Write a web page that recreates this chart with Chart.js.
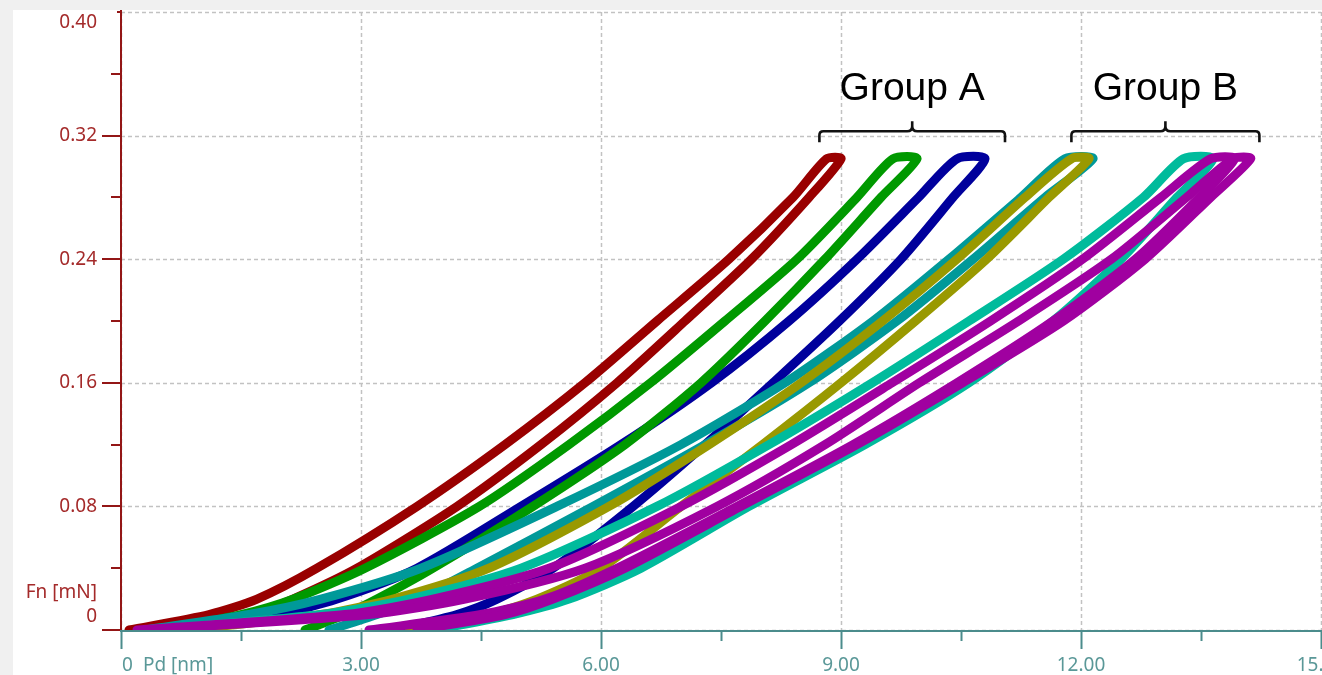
<!DOCTYPE html>
<html>
<head>
<meta charset="utf-8">
<script src="https://cdn.jsdelivr.net/npm/chart.js@4.4.0/dist/chart.umd.min.js"></script>
<style>
  html, body { margin: 0; padding: 0; background: #f0f0f0; overflow: hidden; }
  #panel { position: absolute; left: 13px; top: 10px; width: 1309px; height: 665px; background: #fff; }
</style>
</head>
<body>
<div id="panel"><canvas id="chart" width="1309" height="665"></canvas></div>
<script>
const forceLevels = [0, 0.01, 0.02, 0.04, 0.08, 0.12, 0.16, 0.20, 0.24, 0.28, 0.305]

// group A
const redLoad     = [0.1, 1.1, 1.7, 2.45, 3.7, 4.8, 5.8, 6.7, 7.6, 8.4, 8.82]
const redUnload   = [0.8, 1.65, 2.15, 2.95, 4.2, 5.25, 6.2, 7.05, 7.88, 8.6, 9.0]
const greenLoad   = [0.5, 1.5, 2.15, 3.05, 4.48, 5.6, 6.62, 7.55, 8.45, 9.2, 9.65]
const greenUnload = [2.3, 2.8, 3.2, 3.9, 5.15, 6.3, 7.25, 8.05, 8.8, 9.5, 9.95]
const blueLoad    = [0.7, 1.95, 2.7, 3.7, 5.0, 6.25, 7.38, 8.35, 9.2, 9.97, 10.45]
const blueUnload  = [3.4, 4.2, 4.7, 5.4, 6.4, 7.3, 8.15, 8.98, 9.75, 10.4, 10.8]

// group B
const tealLoad    = [0.3, 1.6, 2.5, 3.75, 5.45, 7.0, 8.3, 9.4, 10.35, 11.25, 11.8]
const tealUnload  = [2.6, 3.2, 3.7, 4.45, 5.9, 7.3, 8.6, 9.7, 10.65, 11.55, 12.15]
const oliveLoad   = [0.8, 2.5, 3.4, 4.6, 6.1, 7.35, 8.5, 9.52, 10.45, 11.3, 11.88]
const oliveUnload = [3.6, 4.6, 5.2, 6.0, 7.0, 8.02, 9.0, 9.93, 10.82, 11.6, 12.1]
const aquaLoad    = [0.4, 2.5, 3.6, 5.0, 6.7, 8.1, 9.39, 10.6, 11.78, 12.78, 13.28]
const aquaUnload  = [3.9, 4.9, 5.6, 6.5, 7.85, 9.3, 10.6, 11.65, 12.5, 13.2, 13.65]
const magentaLoad1   = [0.2, 2.8, 3.9, 5.35, 7.0, 8.38, 9.64, 10.87, 12.02, 13.0, 13.62]
const magentaUnload1 = [3.1, 4.5, 5.3, 6.2, 7.7, 9.15, 10.45, 11.65, 12.68, 13.48, 13.92]
const magentaLoad2   = [0.3, 3.1, 4.3, 5.8, 7.45, 8.8, 9.98, 11.22, 12.38, 13.32, 13.9]
const magentaUnload2 = [3.7, 4.8, 5.4, 6.3, 7.75, 9.2, 10.52, 11.78, 12.8, 13.62, 14.12]

// axes
const xTicks = [0, 3, 6, 9, 12, 15]
const xTickLabels = ['0', '3.00', '6.00', '9.00', '12.00', '15.00']
const yTicks = [0, 0.08, 0.16, 0.24, 0.32, 0.40]
const yTickLabels = ['0', '0.08', '0.16', '0.24', '0.32', '0.40']

// annotations
const groupNames = ['Group A', 'Group B']
const groupFrom = [8.73, 11.88]
const groupTo = [11.05, 14.23]
const braceForce = 0.3228
const labelForce = 0.343

const loopPoints = (load, unload) => {
    const pts = load.map((h, i) => ({ x: h, y: forceLevels[i] }))
    for (let i = unload.length - 1; i >= 0; i--) pts.push({ x: unload[i], y: forceLevels[i] })
    return pts
}

const loops = [
    { label: 'red', color: '#990000', load: redLoad, unload: redUnload, z: 7 },
    { label: 'blue', color: '#00009c', load: blueLoad, unload: blueUnload, z: 6 },
    { label: 'green', color: '#009900', load: greenLoad, unload: greenUnload, z: 5 },
    { label: 'teal', color: '#009999', load: tealLoad, unload: tealUnload, z: 4 },
    { label: 'olive', color: '#999900', load: oliveLoad, unload: oliveUnload, z: 3 },
    { label: 'aqua', color: '#00bb9c', load: aquaLoad, unload: aquaUnload, z: 2 },
    { label: 'magenta 1', color: '#a000a0', load: magentaLoad1, unload: magentaUnload1, z: 1 },
    { label: 'magenta 2', color: '#a000a0', load: magentaLoad2, unload: magentaUnload2, z: 0 }
]

const AXIS_FONT = '19px "Noto Sans", "Open Sans", sans-serif'

const axesPlugin = {
    id: 'axes',
    beforeDatasetsDraw(chart) {
        const { ctx, chartArea: a, scales: { x, y } } = chart
        ctx.save()
        ctx.strokeStyle = '#c2c2c2'
        ctx.lineWidth = 1.5
        ctx.setLineDash([4, 3])
        yTicks.forEach(v => {
            const py = Math.round(y.getPixelForValue(v)) + 0.5
            ctx.beginPath(); ctx.moveTo(a.left, py); ctx.lineTo(a.right, py); ctx.stroke()
        })
        xTicks.forEach(v => {
            const px = Math.round(x.getPixelForValue(v)) + 0.5
            ctx.beginPath(); ctx.moveTo(px, a.top); ctx.lineTo(px, a.bottom); ctx.stroke()
        })
        ctx.restore()
    },
    afterDatasetsDraw(chart) {
        const { ctx, chartArea: a, scales: { x, y } } = chart
        const x0 = x.getPixelForValue(0)
        const y0 = y.getPixelForValue(0)
        ctx.save()

        // y axis (dark red)
        ctx.strokeStyle = '#931616'
        ctx.lineWidth = 2
        ctx.beginPath(); ctx.moveTo(x0, 0); ctx.lineTo(x0, y0 + 1); ctx.stroke()
        for (let v = 0; v <= 0.4001; v += 0.04) {
            const py = Math.round(y.getPixelForValue(v))
            const major = Math.abs(v / 0.08 - Math.round(v / 0.08)) < 1e-6
            const len = v > 0.39 ? 4 : (major ? 19 : 10)
            ctx.beginPath(); ctx.moveTo(x0 - len, py); ctx.lineTo(x0, py); ctx.stroke()
        }
        ctx.fillStyle = '#a42a2a'
        ctx.font = AXIS_FONT
        ctx.textAlign = 'right'
        ctx.textBaseline = 'middle'
        yTicks.forEach((v, i) => {
            let py = y.getPixelForValue(v)
            if (i === 0) py -= 13
            if (i === yTicks.length - 1) py += 11
            ctx.fillText(yTickLabels[i], x0 - 24, py)
        })
        ctx.fillText('Fn [mN]', x0 - 24, y0 - 37)

        // x axis (teal)
        ctx.strokeStyle = '#4b8c8c'
        ctx.beginPath(); ctx.moveTo(x0 - 1, y0 + 1); ctx.lineTo(a.right + 2, y0 + 1); ctx.stroke()
        for (let v = 0; v <= 15; v += 1.5) {
            const px = Math.round(x.getPixelForValue(v)) + 0.5
            const major = Math.abs(v % 3) < 1e-6
            ctx.beginPath(); ctx.moveTo(px, y0 + 1); ctx.lineTo(px, y0 + (major ? 19 : 11)); ctx.stroke()
        }
        ctx.fillStyle = '#5a9898'
        ctx.textBaseline = 'middle'
        xTicks.forEach((v, i) => {
            const px = x.getPixelForValue(v)
            ctx.textAlign = i === 0 ? 'left' : 'center'
            ctx.fillText(xTickLabels[i], i === 0 ? px + 1 : px, y0 + 36)
        })
        ctx.textAlign = 'left'
        ctx.fillText('Pd [nm]', x0 + 22, y0 + 36)

        // group braces and names
        ctx.strokeStyle = '#111'
        ctx.lineWidth = 2.6
        ctx.lineJoin = 'round'
        ctx.fillStyle = '#000'
        ctx.font = '39px "Liberation Sans", Arial, sans-serif'
        ctx.textAlign = 'center'
        ctx.textBaseline = 'alphabetic'
        groupNames.forEach((name, i) => {
            const l = x.getPixelForValue(groupFrom[i])
            const r = x.getPixelForValue(groupTo[i])
            const m = (l + r) / 2
            const b = y.getPixelForValue(braceForce)
            ctx.beginPath()
            ctx.moveTo(l, b + 11)
            ctx.lineTo(l, b + 4)
            ctx.quadraticCurveTo(l, b, l + 4, b)
            ctx.lineTo(m - 5, b)
            ctx.quadraticCurveTo(m, b, m, b - 5)
            ctx.lineTo(m, b - 10)
            ctx.moveTo(m, b - 5)
            ctx.quadraticCurveTo(m, b, m + 5, b)
            ctx.lineTo(r - 4, b)
            ctx.quadraticCurveTo(r, b, r, b + 4)
            ctx.lineTo(r, b + 11)
            ctx.stroke()
            ctx.fillText(name, m, y.getPixelForValue(labelForce))
        })
        ctx.restore()
    }
}

window.addEventListener('load', () => {
    const chartEl = document.getElementById('chart')
    new Chart(chartEl, {
        type: 'scatter',
        data: {
            datasets: loops.map(l => ({
                label: l.label,
                data: loopPoints(l.load, l.unload),
                showLine: true,
                borderColor: l.color,
                backgroundColor: l.color,
                borderWidth: 9,
                borderJoinStyle: 'round',
                borderCapStyle: 'round',
                pointRadius: 0,
                tension: 0.25,
                order: l.z,
                clip: { left: 5, top: 5, right: 5, bottom: 0 }
            }))
        },
        options: {
            responsive: false,
            animation: false,
            layout: { padding: { left: 108, top: 2, right: 1, bottom: 45 } },
            plugins: { legend: { display: false }, tooltip: { enabled: false } },
            scales: {
                x: { type: 'linear', min: 0, max: 15, display: false },
                y: { type: 'linear', min: 0, max: 0.4, display: false }
            }
        },
        plugins: [axesPlugin]
    })
})
</script>
</body>
</html>
